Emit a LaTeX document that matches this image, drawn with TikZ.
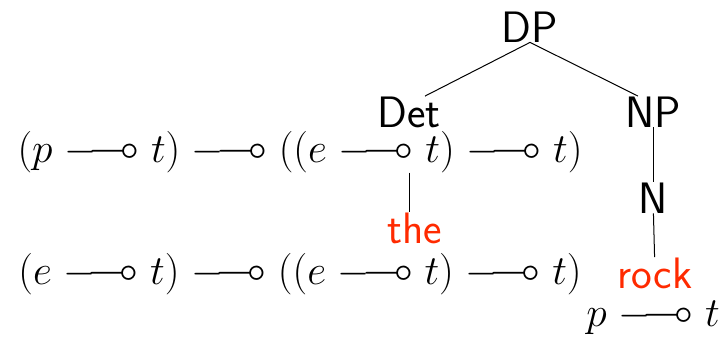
\documentclass[tikz,border=0pt]{standalone}
\usepackage{amsmath,amssymb}
\usepackage{tikz}
\usetikzlibrary{positioning}
\definecolor{lexred}{HTML}{FF2A00}
\newcommand{\lolli}{\mathrel{\relbar\joinrel\multimap}}
\tikzset{
  cat/.style={font=\fontsize{22}{26}\selectfont\sffamily, inner sep=0pt, anchor=base},
  lex/.style={cat, text=lexred},
  ty/.style={font=\fontsize{22.5}{27}\selectfont, inner sep=0pt, anchor=base},
  branch/.style={line width=0.5pt}
}

\begin{document}
\begin{tikzpicture}[x=0.5pt,y=-0.5pt]
        \useasboundingbox (0,0) rectangle (726,338);
        % categories
        \node[cat] (dp) at (530,42) {DP};
        \node[cat] (det) at (409,127) {Det};
        \node[cat] (np) at (653,127) {NP};
        \node[cat] (n) at (653,213) {N};
        % words
        \node[lex] (the) at (415,243) {the};
        \node[lex] (rock) at (655,288) {rock};
        % types
        \node[ty] (detty) at (300,162) {$(p \lolli t) \lolli ((e \lolli t) \lolli t)$};
        \node[ty] (thety) at (300,284) {$(e \lolli t) \lolli ((e \lolli t) \lolli t)$};
        \node[ty] (rockty) at (653,326) {$p \lolli t$};
        \draw[branch] (dp.south) -- ([xshift=8pt]det.north);
        \draw[branch] (dp.south) -- ([xshift=-7.5pt]np.north);
        \draw[branch] (np) -- (n);
        \draw[branch] (n) -- (rock);
        \draw[branch] (det.south |- detty.south) -- (det.south |- the.north);
      \end{tikzpicture}
\end{document}
